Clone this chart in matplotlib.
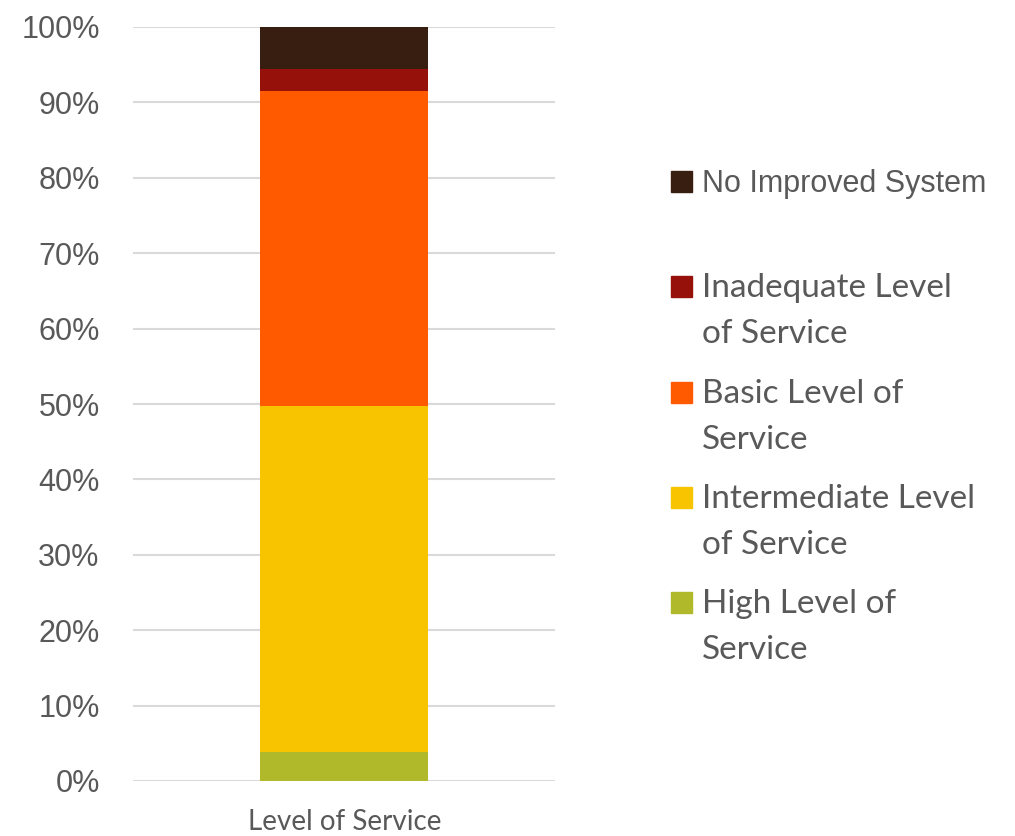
import matplotlib.pyplot as plt
from matplotlib.patches import Rectangle
from matplotlib.ticker import PercentFormatter

# stacked shares (%), bottom to top
category = "Level of Service"
series = ["High Level of\nService",
          "Intermediate Level\nof Service",
          "Basic Level of\nService",
          "Inadequate Level\nof Service",
          "No Improved System"]
values = [3.9, 45.9, 41.7, 2.9, 5.6]
colors = ["#B0B92A", "#F8C400", "#FF5A00", "#96110A", "#381E10"]

W, H = 1015, 836
fig = plt.figure(figsize=(W / 100, H / 100), dpi=100)
ax = fig.add_axes([133 / W, 1 - 781 / H, (555 - 133) / W, (781 - 27) / H])

bottom = 0
for v, c in zip(values, colors):
    ax.bar(0, v, width=0.4, bottom=bottom, color=c, zorder=3)
    bottom += v

ax.set_xlim(-0.5, 0.5)
ax.set_ylim(0, 100)
ax.set_yticks(range(0, 101, 10))
ax.yaxis.set_major_formatter(PercentFormatter(decimals=0))
ax.grid(axis="y", color="#D9D9D9", linewidth=1.5, zorder=0)
for s in ax.spines.values():
    s.set_visible(False)
ax.tick_params(axis="y", length=0, pad=24, labelsize=22, labelcolor="#595959")
for lab in ax.get_yticklabels():
    lab.set_family("Liberation Sans")
ax.set_xticks([])
fig.text(345 / W, 1 - 822 / H, category, ha="center", va="center",
         fontsize=20, color="#595959", family="Lato")

# legend drawn by hand: top entry first, one slot per entry
pitch = 105.3
for i, (lab, c) in enumerate(zip(series[::-1], colors[::-1])):
    base = 192 + i * pitch
    fig.add_artist(Rectangle((671 / W, 1 - base / H), 21 / W, 21 / H,
                             transform=fig.transFigure, color=c))
    for j, line in enumerate(lab.split("\n")):
        fam = "Liberation Sans" if i == 0 else "Lato"
        fig.text(702 / W, 1 - (base + 46 * j) / H, line, ha="left", va="baseline",
                 fontsize=22 if i == 0 else 24, color="#595959", family=fam)

fig.savefig("out.png", dpi=100, facecolor="white")
